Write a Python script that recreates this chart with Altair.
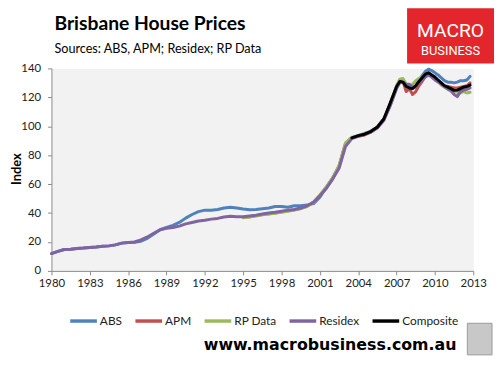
import altair as alt
import pandas as pd

# ---------------- data ----------------
series_names = ["ABS", "APM", "RP Data", "Residex", "Composite"]
series_colors = ["#4F81BD", "#C0504D", "#9BBB59", "#8064A2", "#000000"]

early_years = [1980.0, 1980.5, 1981.0, 1981.5, 1982.0, 1982.5, 1983.0, 1983.5, 1984.0,
               1984.5, 1985.0, 1985.5, 1986.0, 1986.5, 1987.0, 1987.5, 1988.0, 1988.5]
mid_years = [1989.0, 1989.5, 1990.0, 1990.5, 1991.0, 1991.5, 1992.0, 1992.5, 1993.0,
             1993.5, 1994.0, 1994.5]
late_years = [1995.0, 1995.5, 1996.0, 1996.5, 1997.0, 1997.5, 1998.0, 1998.5, 1999.0,
              1999.5, 2000.0, 2000.5, 2001.0, 2001.5, 2002.0, 2002.5, 2003.0]
recent_years = [2003.5, 2004.0, 2004.5, 2005.0, 2005.5, 2006.0, 2006.5, 2007.0, 2007.25,
                2007.5, 2007.75, 2008.0, 2008.25, 2008.5, 2008.75, 2009.0, 2009.25, 2009.5,
                2009.75, 2010.0, 2010.25, 2010.5, 2010.75, 2011.0, 2011.25, 2011.5, 2011.75,
                2012.0, 2012.25, 2012.5, 2012.75]

abs_early = [12.0, 13.5, 14.8, 15.0, 15.5, 15.8, 16.2, 16.5, 17.0, 17.3, 18.0, 19.2, 19.6,
             19.8, 20.5, 22.5, 25.5, 28.5]
abs_mid = [30.0, 31.5, 33.5, 36.5, 39.0, 41.0, 42.0, 42.0, 42.5, 43.5, 44.0, 43.5]
abs_late = [42.8, 42.3, 42.5, 43.0, 43.5, 44.5, 44.5, 44.0, 45.0, 45.0, 45.5, 46.5, 51.0,
            58.0, 64.0, 72.0, 87.0]
abs_recent = [92.0, 93.5, 95.0, 96.5, 99.5, 105.0, 115.0, 127.0, 131.5, 132.0, 129.0, 128.0,
              127.0, 128.0, 132.0, 135.0, 138.0, 139.5, 138.5, 137.0, 135.5, 133.5, 131.5,
              130.5, 130.5, 130.0, 130.5, 131.5, 131.5, 132.0, 134.5]

residex_early = [12.0, 13.5, 14.8, 15.0, 15.5, 15.8, 16.2, 16.5, 17.0, 17.3, 18.0, 19.2, 19.6,
                 20.0, 21.5, 23.5, 26.0, 28.5]
residex_mid = [29.5, 30.0, 31.0, 32.5, 33.5, 34.5, 35.0, 35.8, 36.3, 37.3, 37.8, 37.5]
residex_late = [37.5, 38.0, 38.5, 39.3, 40.0, 40.5, 41.2, 42.0, 42.5, 43.5, 45.0, 47.5, 52.0,
                57.0, 63.5, 71.0, 86.0]
residex_recent = [91.5, 93.0, 94.5, 96.0, 99.0, 104.0, 114.0, 126.0, 130.0, 130.5, 129.0,
                  129.0, 127.0, 127.0, 130.0, 132.0, 134.0, 135.5, 134.0, 132.0, 130.5, 129.0,
                  127.5, 126.0, 124.5, 122.0, 120.5, 124.0, 125.0, 125.5, 126.5]

rp_late = [36.8, 37.3, 38.0, 38.8, 39.3, 39.8, 40.5, 41.2, 42.0, 43.0, 44.5, 47.5, 52.5,
           58.0, 64.5, 73.0, 88.5]
rp_recent = [92.5, 93.5, 95.0, 96.5, 99.5, 104.5, 115.5, 128.0, 132.5, 133.0, 129.0, 128.0,
             129.0, 131.5, 133.0, 134.0, 136.0, 137.0, 135.0, 133.0, 131.0, 128.5, 127.0,
             125.5, 124.5, 124.0, 123.5, 123.0, 124.0, 123.0, 123.5]

apm_late = [37.0, 37.5, 38.2, 39.0, 39.5, 40.0, 40.8, 41.5, 42.2, 43.2, 44.8, 47.5, 52.2,
            57.5, 64.0, 72.5, 88.0]
apm_recent = [92.0, 93.0, 94.0, 96.0, 99.0, 104.5, 115.0, 127.0, 131.0, 131.0, 124.0, 126.0,
              122.0, 124.0, 128.0, 131.0, 134.5, 136.0, 135.0, 133.5, 131.5, 129.5, 128.0,
              127.5, 127.0, 126.5, 126.5, 127.0, 127.5, 128.0, 130.0]

composite_recent = [92.0, 93.5, 94.5, 96.5, 99.5, 105.0, 116.0, 127.5, 131.0, 130.5, 127.5,
                    126.5, 126.0, 128.0, 131.0, 133.5, 136.0, 137.0, 135.5, 134.0, 132.0,
                    130.0, 128.0, 127.0, 126.0, 124.8, 125.0, 126.0, 127.0, 127.5, 128.5]

x_ticks = [1980, 1983, 1986, 1989, 1992, 1995, 1998, 2001, 2004, 2007, 2010, 2013]
y_ticks = [0, 20, 40, 60, 80, 100, 120, 140]

# ---------------- table ----------------
rows = []
def add(name, years, vals):
    for yv, v in zip(years, vals):
        rows.append({"year": yv, "value": v, "series": name})

add("ABS", early_years + mid_years + late_years + recent_years,
    abs_early + abs_mid + abs_late + abs_recent)
add("APM", late_years + recent_years, apm_late + apm_recent)
add("RP Data", late_years + recent_years, rp_late + rp_recent)
add("Residex", early_years + mid_years + late_years + recent_years,
    residex_early + residex_mid + residex_late + residex_recent)
add("Composite", recent_years, composite_recent)
df = pd.DataFrame(rows)

FONT = "Lato"
W, H = 427, 205

color_scale = alt.Scale(domain=series_names, range=series_colors)

x_enc = alt.X("year:Q", scale=alt.Scale(domain=[1980, 2013], nice=False, zero=False),
              axis=alt.Axis(values=x_ticks, format="d", title=None, grid=False,
                            labelFontSize=11.5, labelFont=FONT, labelColor="#222",
                            domainColor="#8a8a8a", tickColor="#8a8a8a", tickSize=4,
                            labelPadding=3, labelFlush=False))
y_enc = alt.Y("value:Q", scale=alt.Scale(domain=[0, 140], nice=False),
              axis=alt.Axis(values=y_ticks, title=None, grid=False,
                            labelFontSize=11.5, labelFont=FONT, labelColor="#222",
                            domainColor="#8a8a8a", tickColor="#8a8a8a", tickSize=4,
                            labelPadding=7))

legend = alt.Legend(title=None, orient="none", direction="horizontal", legendX=17,
                    legendY=240, symbolType="stroke", symbolSize=729,
                    symbolStrokeWidth=3.5, labelFont=FONT, labelFontSize=12,
                    labelColor="#222", labelOffset=1, columnPadding=6, padding=0)

line_layers = []
for i, name in enumerate(series_names):
    line_layers.append(
        alt.Chart(df).transform_filter(alt.datum.series == name)
        .mark_line(strokeWidth=3, strokeJoin="round", strokeCap="round")
        .encode(x=x_enc, y=y_enc,
                color=alt.Color("series:N", scale=color_scale, legend=legend))
    )

one = alt.Data(values=[{}])

y_title = alt.Chart(one).mark_text(text="Index", font=FONT, fontSize=13, fontWeight="bold",
                                   angle=270, align="center", baseline="middle",
                                   color="#000").encode(x=alt.value(-35), y=alt.value(102))
title = alt.Chart(one).mark_text(text="Brisbane House Prices", font=FONT, fontSize=19.5,
                                 fontWeight="bold", align="left", baseline="alphabetic",
                                 color="#000").encode(x=alt.value(3), y=alt.value(-39))
subtitle = alt.Chart(one).mark_text(text="Sources: ABS, APM; Residex; RP Data", font=FONT,
                                    fontSize=12.8, align="left", baseline="alphabetic",
                                    color="#000").encode(x=alt.value(3), y=alt.value(-16))
logo_box = alt.Chart(one).mark_rect(color="#E3262B").encode(
    x=alt.value(360), x2=alt.value(448), y=alt.value(-61), y2=alt.value(-5))
logo1 = alt.Chart(one).mark_text(text="MACRO", font="Roboto", fontSize=19.5, color="white",
                                 align="center", baseline="alphabetic").encode(
    x=alt.value(404), y=alt.value(-32))
logo2 = alt.Chart(one).mark_text(text="BUSINESS", font="Roboto", fontSize=13, color="white",
                                 align="center", baseline="alphabetic").encode(
    x=alt.value(404), y=alt.value(-14))
footer = alt.Chart(one).mark_text(text="www.macrobusiness.com.au", font="DejaVu Sans",
                                  fontSize=16, fontWeight="bold", align="right",
                                  baseline="alphabetic", color="#000").encode(
    x=alt.value(410), y=alt.value(285))
wolf = alt.Chart(one).mark_rect(fill="#c8c8c8", stroke="#9a9a9a", strokeWidth=1).encode(
    x=alt.value(421), x2=alt.value(446), y=alt.value(258), y2=alt.value(290))

chart = alt.layer(*line_layers, y_title, title, subtitle, logo_box, logo1, logo2, footer,
                  wolf).properties(
    width=W, height=H,
    autosize=alt.AutoSizeParams(type="none"),
    padding={"left": 44, "top": 59, "right": 22, "bottom": 85},
    background="white",
).configure_view(fill="#F2F2F2", stroke="transparent")

chart.save("out.html", embed_options={"renderer": "svg", "actions": False})
